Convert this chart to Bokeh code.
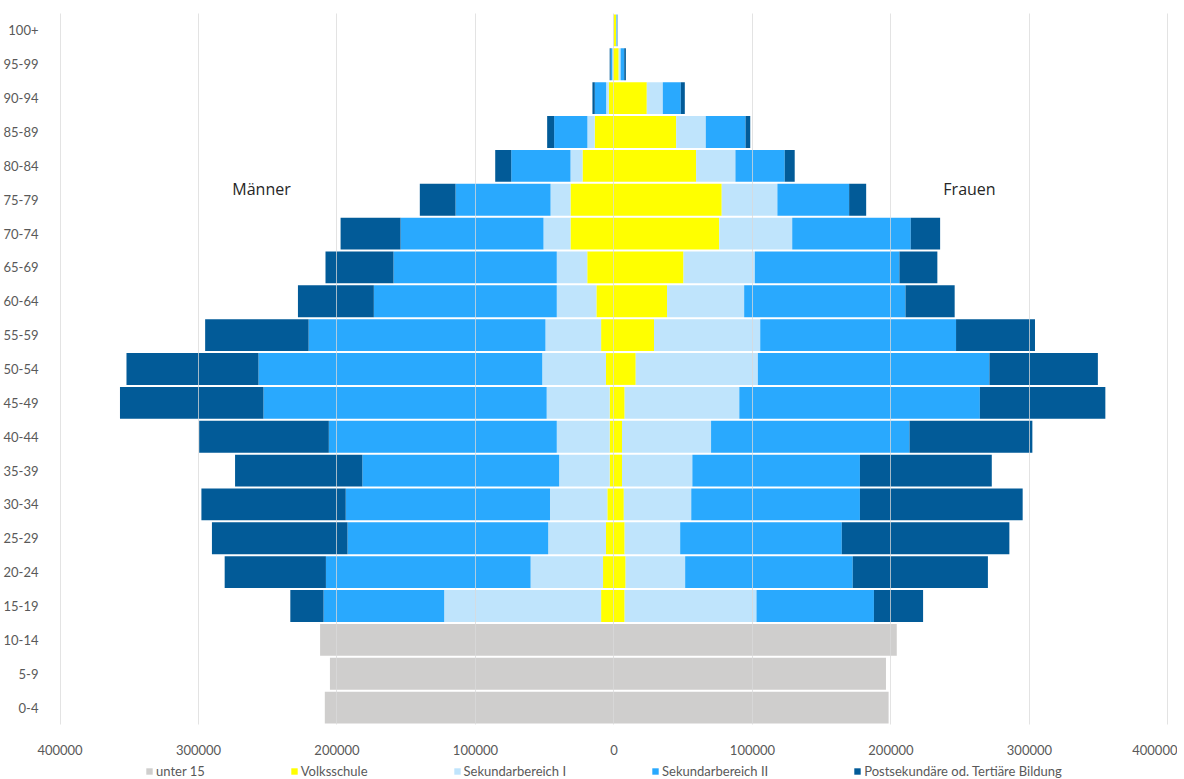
from bokeh.plotting import figure
from bokeh.models import (ColumnDataSource, FactorRange, Range1d, FixedTicker,
                          Legend, LegendItem)
from bokeh.layouts import column
from bokeh.core.properties import value
from bokeh.embed import file_html
from bokeh.resources import INLINE

# ---------------- data ----------------
ages = ["0-4", "5-9", "10-14", "15-19", "20-24", "25-29", "30-34", "35-39",
        "40-44", "45-49", "50-54", "55-59", "60-64", "65-69", "70-74", "75-79",
        "80-84", "85-89", "90-94", "95-99", "100+"]

series_names = ["unter 15", "Volksschule", "Sekundarbereich I",
                "Sekundarbereich II", "Postsekundäre od. Tertiäre Bildung"]

# Männer
m_u15 = [208800, 205100, 212200, 0, 0, 0, 0, 0, 0, 0, 0, 0, 0, 0, 0, 0, 0, 0, 0, 0, 0]
m_vs = [0, 0, 0, 9300, 7900, 5800, 4800, 3100, 3100, 3100, 5800, 9300, 12700,
        19300, 31400, 31400, 22700, 13900, 3750, 800, 200]
m_s1 = [0, 0, 0, 113300, 52300, 41700, 41400, 36500, 38200, 45500, 46000, 40200,
        28600, 22000, 19500, 14400, 8700, 5300, 1900, 400, 0]
m_s2 = [0, 0, 0, 87100, 147800, 144900, 147500, 142100, 164600, 204500, 204900,
        171000, 132100, 117900, 103200, 68600, 42800, 24000, 8200, 1200, 100]
m_post = [0, 0, 0, 24000, 73100, 97900, 104200, 91900, 93600, 103600, 95300,
          74700, 54800, 49100, 43300, 25800, 11550, 5050, 1700, 700, 0]

# Frauen
f_u15 = [198300, 196400, 204200, 0, 0, 0, 0, 0, 0, 0, 0, 0, 0, 0, 0, 0, 0, 0, 0, 0, 0]
f_vs = [0, 0, 0, 7700, 8400, 7700, 7100, 5800, 5800, 7700, 15700, 28900, 38300,
        50200, 76000, 77800, 59300, 44900, 23700, 3400, 1500]
f_s1 = [0, 0, 0, 95200, 43000, 40100, 48700, 50800, 64300, 82800, 88200, 76700,
        55700, 51500, 52700, 40200, 28400, 21400, 11550, 1400, 300]
f_s2 = [0, 0, 0, 84800, 121000, 116700, 121800, 121000, 143300, 173700, 167200,
        141400, 116500, 104400, 85600, 51800, 35600, 28700, 13000, 2600, 500]
f_post = [0, 0, 0, 35500, 97600, 121000, 117500, 95200, 88700, 90600, 78300,
          57000, 35500, 27400, 21200, 12300, 7200, 3400, 2900, 1200, 200]

tick_values = [-400000, -300000, -200000, -100000, 0, 100000, 200000, 300000, 400000]
tick_labels = ["400000", "300000", "200000", "100000", "0", "100000", "200000",
               "300000", "400000"]

colors = ["#CFCECD", "#FFFF00", "#BFE4FC", "#29A9FE", "#025B98"]

# ---------------- source ----------------
src = ColumnDataSource(dict(
    age=ages,
    mu=[-v for v in m_u15], mv=[-v for v in m_vs], ms1=[-v for v in m_s1],
    ms2=[-v for v in m_s2], mp=[-v for v in m_post],
    fu=f_u15, fv=f_vs, fs1=f_s1, fs2=f_s2, fp=f_post,
))

FONT = "Lato"
GREY = "#595959"

p = figure(frame_width=1124, frame_height=711, output_backend="svg",
           toolbar_location=None,
           y_range=FactorRange(*ages, range_padding=0, factor_padding=0),
           x_range=Range1d(-404700, 406900),
           min_border_left=44, min_border_right=0, min_border_top=13,
           min_border_bottom=34)

p.hbar_stack(["mu", "mv", "ms1", "ms2", "mp"], y="age", height=0.94,
             color=colors, line_color=None, source=src)
p.hbar_stack(["fu", "fv", "fs1", "fs2", "fp"], y="age", height=0.94,
             color=colors, line_color=None, source=src)

p.outline_line_color = None
p.ygrid.visible = False
p.xgrid.ticker = FixedTicker(ticks=tick_values)
p.xgrid.grid_line_color = "#D9D9D9"
p.xgrid.grid_line_alpha = 0.75
p.xgrid.level = "overlay"

p.xaxis.ticker = FixedTicker(ticks=tick_values)
p.xaxis.major_label_overrides = {v: l for v, l in zip(tick_values, tick_labels)}
for ax in (p.xaxis[0], p.yaxis[0]):
    ax.axis_line_color = None
    ax.major_tick_line_color = None
    ax.minor_tick_line_color = None
    ax.major_label_text_font = FONT
    ax.major_label_text_font_size = "13px"
    ax.major_label_text_color = GREY
p.xaxis.major_label_standoff = 14
p.yaxis.major_label_standoff = 9

# side labels
p.text(x=[-254500], y=["75-79"], text=["Männer"], y_offset=-11,
       text_align="center", text_baseline="middle",
       text_font=value("Open Sans"), text_font_size="16px", text_color="#262626")
p.text(x=[256700], y=["75-79"], text=["Frauen"], y_offset=-11,
       text_align="center", text_baseline="middle",
       text_font=value("Open Sans"), text_font_size="16px", text_color="#262626")

# ---------------- legend strip ----------------
lg = figure(width=1168, height=22, output_backend="svg", toolbar_location=None,
            x_axis_type=None, y_axis_type=None, min_border=0,
            x_range=Range1d(0, 1), y_range=Range1d(0, 1))
lg.outline_line_color = None
lg.xgrid.visible = False
lg.ygrid.visible = False
swatches = [lg.hbar(y=[0], left=[0], right=[0], height=0, fill_color=c,
                    line_color=None) for c in colors]

legend = Legend(items=[LegendItem(label=n, renderers=[r]) for n, r in zip(series_names, swatches)],
                orientation="horizontal", location=(92, 1),
                glyph_width=8, glyph_height=8, label_standoff=3, spacing=85,
                padding=0, margin=0, label_height=13,
                label_text_font=FONT, label_text_font_size="13px",
                label_text_color=GREY, border_line_color=None,
                background_fill_alpha=0)
lg.add_layout(legend, "center")

layout = column(p, lg, spacing=0)
open("out.html", "w").write(file_html(layout, INLINE))
